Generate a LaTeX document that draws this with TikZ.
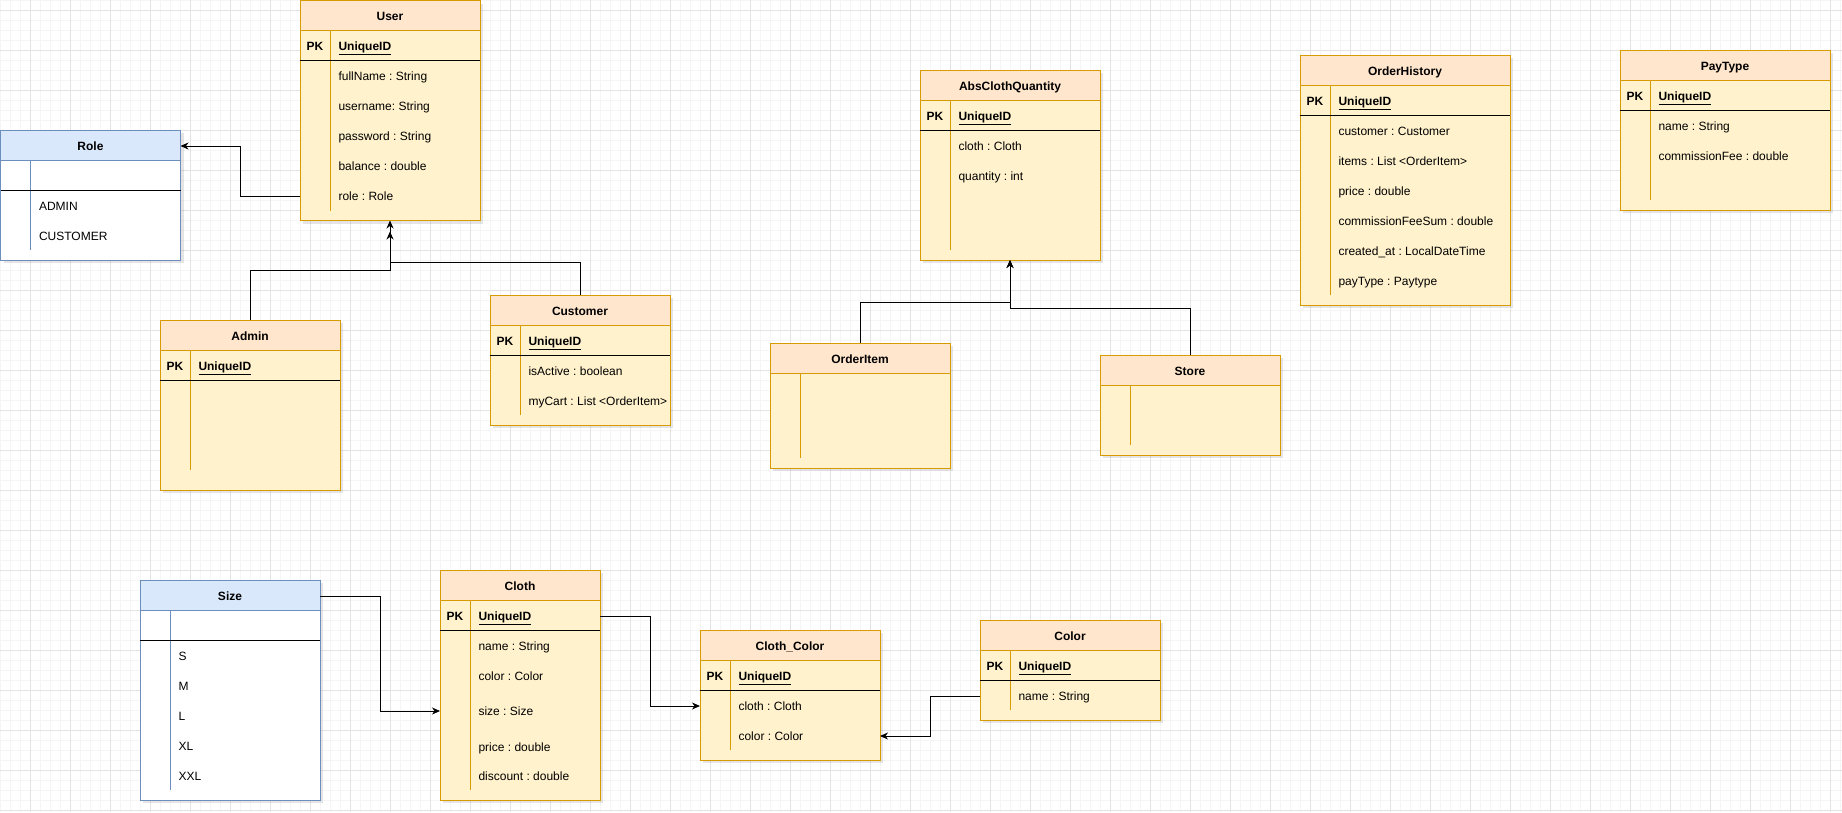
\documentclass[tikz,border=0pt]{standalone}
\usepackage{fontspec}
\setmainfont{Liberation Sans}
\usepackage{xcolor}
\definecolor{EntityHead}{HTML}{FFE6CC}
\definecolor{EntityBody}{HTML}{FFF2CC}
\definecolor{EntityLine}{HTML}{D79B00}
\definecolor{EnumHead}{HTML}{DAE8FC}
\definecolor{EnumBody}{HTML}{FFFFFF}
\definecolor{EnumLine}{HTML}{6C8EBF}
\definecolor{GridMajor}{HTML}{E3E3E3}
\definecolor{GridMinor}{HTML}{F5F5F5}
\usetikzlibrary{calc, arrows.meta, shadows}
\frenchspacing

\tikzset{
  tablebox/.style={rectangle, inner sep=0pt, outer sep=0pt,
    drop shadow={opacity=0.2, shadow xshift=3pt, shadow yshift=-3pt}},
  titletext/.style={font=\fontsize{12}{14}\selectfont\bfseries, inner sep=0pt,
    text height=8.6pt, text depth=0pt},
  fieldtext/.style={font=\fontsize{12}{14}\selectfont, anchor=west, inner sep=0pt,
    text height=8.6pt, text depth=0pt},
  keyline/.style={draw=black},
  link/.style={draw=black, -{Stealth[length=8pt, width=7pt, inset=2.5pt]}},
}

\newcommand{\entity}[8]{%
  \node[tablebox, draw=#7Line, fill=#7Body, minimum width=#4pt, minimum height=#5pt,
    anchor=north west] (#1) at (#2,#3) {};
  \filldraw[draw=#7Line, fill=#7Head] (#1.north west) rectangle ++(#4,30);
  \node[titletext] (#1-title) at ($(#1.north west)+(#4/2,16)$) {#6};
  \draw[#7Line] ($(#1.north west)+(30,30)$) -- ($(#1.north west)+(30,#8)$);
}
\newcommand{\keyline}[2]{%
  \draw[keyline] ($(#1.north west)+(0,60)$) -- ++(#2,0);
}
\newcommand{\keyfield}[2]{%
  \keyline{#1}{#2}
  \node[titletext] (#1-pk) at ($(#1.north west)+(15,46)$) {PK};
  \node[fieldtext, font=\fontsize{12}{14}\selectfont\bfseries] (#1-id)
    at ($(#1.north west)+(38,46)$) {\underline{UniqueID}};
}
\newcommand{\fields}[3]{%
  \foreach \txt [count=\k] in {#3}
    \node[fieldtext] (#1-f\k) at ($(#1.north west)+(38,#2+30*\k-14)$) {\txt};
}

\begin{document}
\begin{tikzpicture}[x=1pt, y=-1pt, line width=1pt]

\useasboundingbox (0,0) rectangle (1842,812);
\fill[white] (0,0) rectangle (1842,812);
\foreach \gx in {0,10,...,1840} \draw[GridMinor] (\gx,0) -- (\gx,812);
\foreach \gy in {0,10,...,810} \draw[GridMinor] (0,\gy) -- (1842,\gy);
\foreach \gx in {30,70,...,1830} \draw[GridMajor] (\gx,0) -- (\gx,812);
\foreach \gy in {10,50,...,810} \draw[GridMajor] (0,\gy) -- (1842,\gy);

\entity{User}{300}{0.5}{180}{220}{User}{Entity}{210}
\keyfield{User}{180}
\fields{User}{60}{fullName : String, username: String, password : String,
  balance : double, role : Role}

\entity{Role}{0.5}{130}{180}{130}{Role}{Enum}{120}
\keyline{Role}{180}
\fields{Role}{60}{ADMIN, CUSTOMER}

\entity{Admin}{160}{320}{180}{170}{Admin}{Entity}{150}
\keyfield{Admin}{180}

\entity{Customer}{490}{295}{180}{130}{Customer}{Entity}{120}
\keyfield{Customer}{180}
\fields{Customer}{60}{isActive : boolean, myCart : List <OrderItem>}

\entity{AbsClothQuantity}{920}{70}{180}{190}{AbsClothQuantity}{Entity}{180}
\keyfield{AbsClothQuantity}{180}
\fields{AbsClothQuantity}{60}{cloth : Cloth, quantity : int}

\entity{OrderItem}{770}{343}{180}{125}{OrderItem}{Entity}{115}

\entity{Store}{1100}{355}{180}{100}{Store}{Entity}{90}

\entity{OrderHistory}{1300}{55}{210}{250}{OrderHistory}{Entity}{240}
\keyfield{OrderHistory}{210}
\fields{OrderHistory}{60}{customer : Customer, items : List <OrderItem>,
  price : double, commissionFeeSum : double, created\_at : LocalDateTime,
  payType : Paytype}

\entity{PayType}{1620}{50}{210}{160}{PayType}{Entity}{150}
\keyfield{PayType}{210}
\fields{PayType}{60}{name : String, commissionFee : double}

\entity{Size}{140}{580}{180}{220}{Size}{Enum}{210}
\keyline{Size}{180}
\fields{Size}{60}{S, M, L, XL, XXL}

\entity{Cloth}{440}{570}{160}{230}{Cloth}{Entity}{220}
\keyfield{Cloth}{160}
\foreach \fy/\txt [count=\k] in {75/name : String, 105/color : Color,
  140/size : Size, 176/price : double, 205/discount : double}
  \node[fieldtext] (Cloth-f\k) at ($(Cloth.north west)+(38,\fy+1)$) {\txt};

\entity{ClothColor}{700}{630}{180}{130}{Cloth\_Color}{Entity}{120}
\keyfield{ClothColor}{180}
\fields{ClothColor}{60}{cloth : Cloth, color : Color}

\entity{Color}{980}{620}{180}{100}{Color}{Entity}{90}
\keyfield{Color}{180}
\fields{Color}{60}{name : String}

\coordinate (User-in) at ($(User.south)+(0,11)$);
\draw[link] (User.west |- User-f5) -- ++(-60,0) |- (Role.east |- Role-title);
\draw[link] (Admin.north) -- ++(0,-50) -| (User.south);
\draw[link] (Customer.north) -- ++(0,-33) -| (User-in);
\draw[link] (OrderItem.north) -- ++(0,-41) -| (AbsClothQuantity.south);
\draw[link] (Store.north) -- ++(0,-47) -| (AbsClothQuantity.south);
\draw[link] (Size.east |- Size-title) -- ++(60,0) |- (Cloth.west |- Cloth-f3);
\draw[link] (Cloth.east |- Cloth-pk) -- ++(50,0) |- (ClothColor.west |- ClothColor-f1);
\draw[link] (Color.west |- Color-f1) -- ++(-50,0) |- (ClothColor.east |- ClothColor-f2);

\end{tikzpicture}
\end{document}
